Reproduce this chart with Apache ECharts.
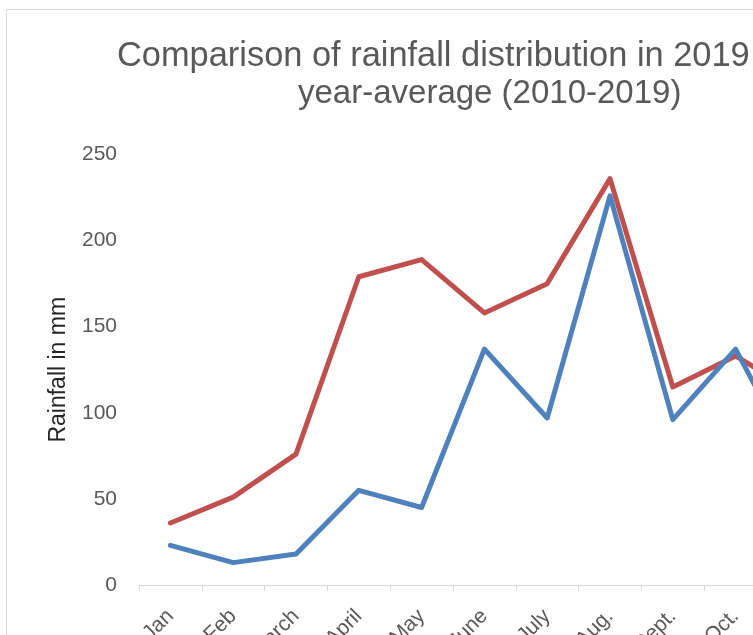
<!DOCTYPE html>
<html>
<head>
<meta charset="utf-8">
<script src="https://cdn.jsdelivr.net/npm/echarts@6/dist/echarts.min.js"></script>
<style>
html,body{margin:0;padding:0;background:#fff;}
#chart{width:753px;height:635px;}
</style>
</head>
<body>
<div id="chart"></div>
<script>
var categories = ["Jan", "Feb", "March", "April", "May", "June", "July", "Aug.", "Sept.", "Oct.", "Nov.", "Dec."];
var avgValues = [36, 51, 76, 179, 189, 158, 175, 236, 115, 133, 111, 60];
var y2019Values = [23, 13, 18, 55, 45, 137, 97, 226, 96, 137, 68, 40];
var yTicks = [0, 50, 100, 150, 200, 250];
var titleLine1 = "Comparison of rainfall distribution in 2019 and 10-";
var titleLine2 = "year-average (2010-2019)";

var FONT = "'Liberation Sans', Arial, sans-serif";
var GRAY = "#595959";

var chart = echarts.init(document.getElementById('chart'), null, {renderer: 'canvas'});
chart.setOption({
  animation: false,
  backgroundColor: '#ffffff',
  title: [
    {text: titleLine1, left: 112, top: 35,
     textStyle: {fontFamily: FONT, fontSize: 34.4, fontWeight: 'normal', color: GRAY}},
    {text: titleLine2, left: 293, top: 72,
     textStyle: {fontFamily: FONT, fontSize: 33, fontWeight: 'normal', color: GRAY}}
  ],
  graphic: [{
    type: 'rect', silent: true, z: -1,
    shape: {x: 6.5, y: 9.5, width: 1200, height: 1200},
    style: {fill: 'none', stroke: '#d9d9d9', lineWidth: 1}
  }],
  grid: {left: 139, top: 154.5, width: 753.6, height: 430.5, containLabel: false, outerBoundsMode: 'none'},
  xAxis: {
    type: 'category',
    data: categories,
    boundaryGap: true,
    axisLine: {show: true, lineStyle: {color: '#d9d9d9', width: 1}},
    axisTick: {show: true, length: 6, lineStyle: {color: '#d9d9d9'}},
    axisLabel: {rotate: 45, margin: 28, interval: 0, fontFamily: FONT, fontSize: 21, color: GRAY}
  },
  yAxis: {
    type: 'value',
    min: yTicks[0], max: yTicks[yTicks.length - 1], interval: 50,
    name: 'Rainfall in mm',
    nameLocation: 'middle',
    nameGap: 69,
    nameTextStyle: {fontFamily: FONT, fontSize: 23, color: '#262626'},
    axisLine: {show: false},
    axisTick: {show: false},
    splitLine: {show: false},
    axisLabel: {margin: 22, fontFamily: FONT, fontSize: 21, color: GRAY}
  },
  series: [
    {name: '10-year average', type: 'line', data: avgValues, symbol: 'none',
     lineStyle: {color: '#C0504D', width: 5, cap: 'round', join: 'round'}},
    {name: '2019', type: 'line', data: y2019Values, symbol: 'none',
     lineStyle: {color: '#4F81BD', width: 5, cap: 'round', join: 'round'}}
  ]
});
</script>
</body>
</html>
